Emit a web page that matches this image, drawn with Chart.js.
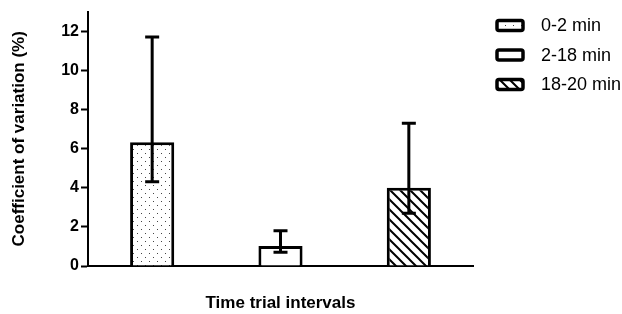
<!DOCTYPE html>
<html>
<head>
<meta charset="utf-8">
<script src="https://cdn.jsdelivr.net/npm/chart.js@4/dist/chart.umd.min.js"></script>
<style>
  body { margin: 0; background: #fff; }
</style>
</head>
<body>
<canvas id="cvChart" width="622" height="314"></canvas>
<script>
var categories = ['0-2 min', '2-18 min', '18-20 min'];
var meanCV = [6.32, 1.02, 4.0];
var errUpper = [11.7, 1.8, 7.3];
var errLower = [4.3, 0.7, 2.7];
var yTicks = [0, 2, 4, 6, 8, 10, 12];

function dotPattern() {
    var c = document.createElement('canvas');
    c.width = 8; c.height = 8;
    var g = c.getContext('2d');
    g.fillStyle = '#fff';
    g.fillRect(0, 0, 8, 8);
    g.fillStyle = '#444';
    g.fillRect(1, 1, 1, 1);
    g.fillRect(5, 5, 1, 1);
    return g.createPattern(c, 'repeat');
}

function hatchPattern() {
    var c = document.createElement('canvas');
    c.width = 10; c.height = 10;
    var g = c.getContext('2d');
    g.fillStyle = '#fff';
    g.fillRect(0, 0, 10, 10);
    g.strokeStyle = '#000';
    g.lineWidth = 2;
    g.beginPath();
    g.moveTo(-2, -2); g.lineTo(12, 12);
    g.moveTo(-2, 8); g.lineTo(2, 12);
    g.moveTo(8, -2); g.lineTo(12, 2);
    g.stroke();
    return g.createPattern(c, 'repeat');
}

var fills = [dotPattern(), '#ffffff', hatchPattern()];

var errorBars = {
    id: 'errorBars',
    afterDatasetsDraw: function (chart) {
        var ctx = chart.ctx;
        var y = chart.scales.y;
        var meta = chart.getDatasetMeta(0);
        ctx.save();
        ctx.strokeStyle = '#000';
        ctx.lineWidth = 3;
        meta.data.forEach(function (bar, i) {
            var top = y.getPixelForValue(errUpper[i]);
            var bot = y.getPixelForValue(errLower[i]);
            ctx.beginPath();
            ctx.moveTo(bar.x, top);
            ctx.lineTo(bar.x, bot);
            ctx.moveTo(bar.x - 7, top);
            ctx.lineTo(bar.x + 7, top);
            ctx.moveTo(bar.x - 7, bot);
            ctx.lineTo(bar.x + 7, bot);
            ctx.stroke();
        });
        ctx.restore();
    }
};

// legend at the right, one box per category
var sideLegend = {
    id: 'sideLegend',
    afterDraw: function (chart) {
        var ctx = chart.ctx;
        ctx.save();
        categories.forEach(function (label, i) {
            var bx = 497, by = 20.5 + i * 29.5;
            ctx.fillStyle = fills[i];
            ctx.strokeStyle = '#000';
            ctx.lineWidth = 3.5;
            ctx.beginPath();
            ctx.roundRect(bx, by, 26, 10, 2);
            ctx.fill();
            ctx.stroke();
            ctx.fillStyle = '#000';
            ctx.font = '18px "Liberation Sans", Arial';
            ctx.textBaseline = 'middle';
            ctx.fillText(label, 541, by + 6);
        });
        ctx.restore();
    }
};

var ctx = document.getElementById('cvChart').getContext('2d');
var chart = new Chart(ctx, {
    type: 'bar',
    data: {
        labels: categories,
        datasets: [{
            label: 'CV',
            data: meanCV,
            backgroundColor: fills,
            borderColor: '#000',
            borderWidth: 3,
            borderSkipped: 'bottom',
            categoryPercentage: 1,
            barPercentage: 0.344
        }]
    },
    options: {
        responsive: false,
        animation: false,
        layout: { padding: { top: 10, right: 149, left: 0, bottom: 0 } },
        plugins: {
            legend: { display: false },
            tooltip: { enabled: false }
        },
        scales: {
            x: {
                z: 1,
                afterFit: function (s) { s.height = 48; },
                grid: { display: false },
                border: { color: '#000', width: 2 },
                ticks: { display: false },
                title: {
                    display: true,
                    text: 'Time trial intervals',
                    color: '#000',
                    font: { family: '"Liberation Sans", Arial', size: 17, weight: 'bold' },
                    padding: { top: 3, bottom: 0 }
                }
            },
            y: {
                min: 0,
                max: 13,
                afterFit: function (s) { s.width = 88; },
                afterBuildTicks: function (s) {
                    s.ticks = yTicks.map(function (v) { return { value: v }; });
                },
                grid: {
                    drawOnChartArea: false,
                    drawTicks: true,
                    tickLength: 7,
                    tickWidth: 2,
                    tickColor: '#000'
                },
                border: { color: '#000', width: 2 },
                ticks: {
                    color: '#000',
                    padding: 2,
                    font: { family: '"Liberation Sans", Arial', size: 16, weight: 'bold' }
                },
                title: {
                    display: true,
                    text: 'Coefficient of variation (%)',
                    color: '#000',
                    font: { family: '"Liberation Sans", Arial', size: 17, weight: 'bold' },
                    padding: { top: 9, bottom: 0 }
                }
            }
        }
    },
    plugins: [errorBars, sideLegend]
});
</script>
</body>
</html>
